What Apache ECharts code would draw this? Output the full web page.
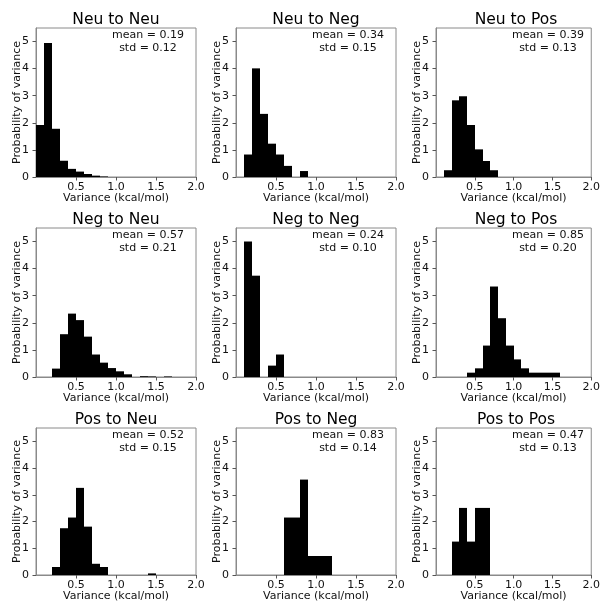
<!DOCTYPE html>
<html>
<head>
<meta charset="utf-8">
<script src="https://cdn.jsdelivr.net/npm/echarts@6/dist/echarts.min.js"></script>
<style>
  html, body { margin: 0; padding: 0; background: #fff; }
  #chart { width: 603px; height: 603px; }
</style>
</head>
<body>
<div id="chart"></div>
<script>
// Histogram bins: width 0.1 kcal/mol, starting at 0
const binWidth = 0.1;

// Probability density per bin for each transition
const neuToNeu = [1.92, 4.95, 1.78, 0.60, 0.30, 0.20, 0.11, 0.05, 0.02];
const neuToNeg = [0, 0.83, 4.01, 2.33, 1.23, 0.83, 0.41, 0, 0.22];
const neuToPos = [0, 0.25, 2.83, 2.98, 1.92, 1.02, 0.59, 0.25];
const negToNeu = [0, 0, 0.31, 1.58, 2.34, 2.10, 1.49, 0.83, 0.53, 0.33, 0.21, 0.10, 0, 0.03, 0.02, 0, 0.02];
const negToNeg = [0, 5.00, 3.74, 0, 0.42, 0.83];
const negToPos = [0, 0, 0, 0, 0.16, 0.32, 1.16, 3.34, 2.17, 1.16, 0.65, 0.32, 0.16, 0.16, 0.16, 0.16];
const posToNeu = [0, 0, 0.30, 1.75, 2.15, 3.26, 1.81, 0.42, 0.30, 0, 0, 0, 0, 0, 0.06];
const posToNeg = [0, 0, 0, 0, 0, 0, 2.15, 2.15, 3.57, 0.71, 0.71, 0.71];
const posToPos = [0, 0, 1.25, 2.51, 1.25, 2.51, 2.51];

const panelTitles = ['Neu to Neu', 'Neu to Neg', 'Neu to Pos',
                     'Neg to Neu', 'Neg to Neg', 'Neg to Pos',
                     'Pos to Neu', 'Pos to Neg', 'Pos to Pos'];
const panelData = [neuToNeu, neuToNeg, neuToPos,
                   negToNeu, negToNeg, negToPos,
                   posToNeu, posToNeg, posToPos];
const means = ['0.19', '0.34', '0.39', '0.57', '0.24', '0.85', '0.52', '0.83', '0.47'];
const stds  = ['0.12', '0.15', '0.13', '0.21', '0.10', '0.20', '0.15', '0.14', '0.13'];

const xTicks = [0.5, 1.0, 1.5, 2.0];
const yTicks = [0, 1, 2, 3, 4, 5];
const xLabel = 'Variance (kcal/mol)';
const yLabel = 'Probability of variance';

// Layout of the 3x3 grid of panels
const FONT = 'DejaVu Sans';
const gridLeft0 = 36, gridTop0 = 28, cellStep = 200;
const gridW = 160, gridH = 149;
const spineColor = '#8a8a8a';

const grids = [], xAxes = [], yAxes = [], series = [], titles = [];

panelData.forEach((heights, i) => {
  const col = i % 3, row = Math.floor(i / 3);
  const left = gridLeft0 + col * cellStep;
  const top = gridTop0 + row * cellStep;

  grids.push({
    left: left, top: top, width: gridW, height: gridH,
    show: true, borderColor: spineColor, borderWidth: 1, backgroundColor: 'transparent'
  });

  xAxes.push({
    gridIndex: i, type: 'value', min: 0, max: 2,
    name: xLabel, nameLocation: 'middle', nameGap: 16, nameMoveOverlap: false,
    nameTextStyle: { fontFamily: FONT, fontSize: 11, color: '#111' },
    axisLine: { show: true, lineStyle: { color: spineColor } },
    axisTick: { show: true, length: 3.5, customValues: xTicks, lineStyle: { color: '#555' } },
    axisLabel: {
      customValues: xTicks, margin: 5, fontFamily: FONT, fontSize: 11, color: '#111',
      formatter: v => v.toFixed(1)
    },
    splitLine: { show: false }
  });

  yAxes.push({
    gridIndex: i, type: 'value', min: 0, max: 5.5,
    name: yLabel, nameLocation: 'middle', nameGap: 13, nameMoveOverlap: false,
    nameTextStyle: { fontFamily: FONT, fontSize: 11, color: '#111' },
    axisLine: { show: true, lineStyle: { color: spineColor } },
    axisTick: { show: true, length: 3.5, customValues: yTicks, lineStyle: { color: '#555' } },
    axisLabel: {
      customValues: yTicks, margin: 7, fontFamily: FONT, fontSize: 11, color: '#111',
      formatter: v => String(v)
    },
    splitLine: { show: false }
  });

  // Each bin becomes [left edge, right edge, height]; empty bins are skipped
  const bins = heights.map((h, k) => [k * binWidth, (k + 1) * binWidth, h]).filter(d => d[2] > 0);
  series.push({
    type: 'custom', xAxisIndex: i, yAxisIndex: i, data: bins,
    encode: { x: [0, 1], y: 2 },
    renderItem: (params, api) => {
      const p0 = api.coord([api.value(0), api.value(2)]);
      const p1 = api.coord([api.value(1), 0]);
      // snap vertical edges to whole pixels so neighbouring bars join without seams
      const x0 = Math.round(p0[0]), x1 = Math.round(p1[0]);
      return {
        type: 'rect',
        shape: { x: x0, y: p0[1], width: x1 - x0, height: p1[1] - p0[1] },
        style: { fill: '#000' }
      };
    },
    silent: true, animation: false
  });

  titles.push({
    text: panelTitles[i], left: left + gridW / 2, top: top - 16, textAlign: 'center', padding: 0,
    textStyle: { fontFamily: FONT, fontSize: 15.5, fontWeight: 'normal', color: '#000' }
  });
  titles.push({
    text: 'mean = ' + means[i] + '\nstd = ' + stds[i],
    left: left + 112, top: top + 1, textAlign: 'center', padding: 0,
    textStyle: { fontFamily: FONT, fontSize: 11, fontWeight: 'normal', color: '#111', lineHeight: 12.5, align: 'center' }
  });
});

const chart = echarts.init(document.getElementById('chart'), null, { renderer: 'canvas' });
chart.setOption({
  animation: false,
  backgroundColor: '#fff',
  title: titles,
  grid: grids,
  xAxis: xAxes,
  yAxis: yAxes,
  series: series
});
</script>
</body>
</html>
